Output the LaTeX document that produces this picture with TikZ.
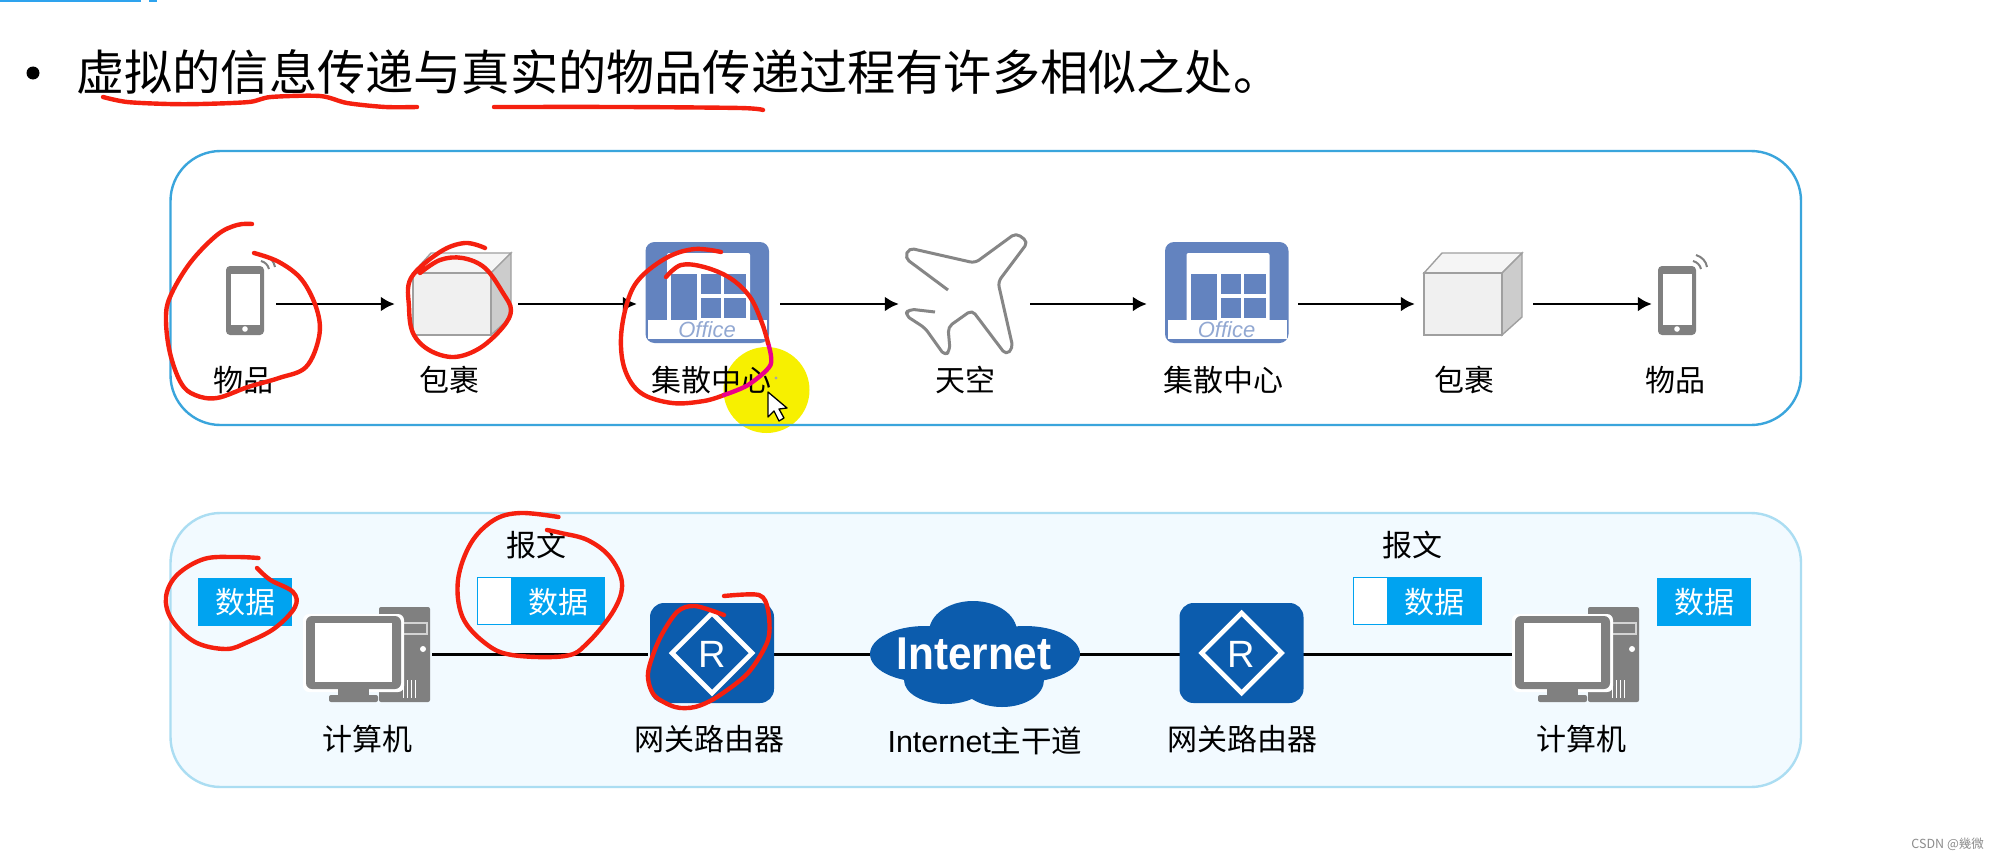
\documentclass[tikz,border=0pt]{standalone}
\usepackage{fontspec}
\setmainfont{Noto Sans CJK SC}
\newfontfamily\lat{Liberation Sans}
\usetikzlibrary{arrows.meta}
\definecolor{inkred}{HTML}{F5200F}
\definecolor{boxblue}{HTML}{00A3F0}
\definecolor{rblue}{HTML}{0C5CAD}
\definecolor{ofblue}{HTML}{6383BF}
\definecolor{gic}{HTML}{808080}
\definecolor{edgetop}{HTML}{3AA5DC}
\definecolor{edgelow}{HTML}{ABDDF2}
\definecolor{fillow}{HTML}{F2FAFF}
\definecolor{hilite}{HTML}{F7F000}
\definecolor{topbar}{HTML}{2EA3EE}
\tikzset{
  x=1pt,y=-1pt,
  lab/.style={font=\fontsize{30}{30}\selectfont,inner sep=0pt,text=black},
  dat/.style={font=\fontsize{30}{30}\selectfont,inner sep=0pt,text=white},
  anchorbox/.style={inner sep=0pt,minimum height=10pt},
  arr/.style={line width=2.8pt,black,-{Latex[length=14pt,width=15pt]}},
  lnk/.style={line width=3pt,black},
  ink/.style={inkred,line width=4.4pt,line cap=round,line join=round},
  panel/.style={line width=2.4pt,rounded corners=50pt}
}
\newcommand{\phoneic}[2]{\begin{scope}[shift={(#1,#2)}]
  \fill[gic,rounded corners=4pt](226,266)rectangle(264,335);
  \fill[white](231,274)rectangle(260,325);
  \fill[white](245,329)circle(2.8);
  \draw[gic,line width=2pt](261,261)..controls(265,262)and(268,265)..(269,269);
  \draw[gic,line width=2pt](264,255)..controls(270,257)and(274,261)..(275,267);
\end{scope}}
\newcommand{\cubeic}[2]{\begin{scope}[shift={(#1,#2)}]
  \fill[gray!8,draw=gray!75,line width=1.4pt](413,273)--(431,253)--(511,253)--(491,273)--cycle;
  \fill[gray!40,draw=gray!75,line width=1.4pt](491,273)--(511,253)--(511,317)--(491,335)--cycle;
  \fill[gray!12,draw=gray!75,line width=1.4pt](413,273)rectangle(491,335);
\end{scope}}
\newcommand{\officeic}[3]{\begin{scope}[shift={(#1,#2)}]
  \fill[ofblue,rounded corners=9pt](645.5,242)rectangle(769,343);
  \fill[white,rounded corners=2pt](667,253)rectangle(750,322);
  \fill[white](648,320)rectangle(767,339);
  \fill[ofblue](671,274)rectangle(697,320);
  \fill[ofblue](701,274)rectangle(721,294);
  \fill[ofblue](724,274)rectangle(746,294);
  \fill[ofblue](701,298)rectangle(721,318);
  \fill[ofblue](724,298)rectangle(746,318);
  \node[inner sep=0pt,text=ofblue!70,font=\lat\itshape\fontsize{22}{22}\selectfont] (#3) at (707,330) {Office};
\end{scope}}
\newcommand{\pcic}[2]{\begin{scope}[shift={(#1,#2)}]
  \fill[gic,rounded corners=2pt](379,607)rectangle(430,702);
  \fill[gic!35](402,622)rectangle(428,635);
  \fill[gic](404,624)rectangle(426,633);
  \fill[white](423,649)circle(3);
  \foreach \vx in {403,407,411,415}{\draw[white,line width=1pt](\vx,680)--(\vx,698);}
  \fill[white,rounded corners=6pt](303,614)rectangle(404,692);
  \fill[gic,rounded corners=6pt](306,616)rectangle(401,689);
  \fill[white](315,623)rectangle(392,682);
  \fill[gic](338,689)rectangle(369,695);
  \fill[gic,rounded corners=2pt](329,695)rectangle(378,702);
\end{scope}}
\newcommand{\routic}[3]{\begin{scope}[shift={(#1,#2)}]
  \fill[rblue,rounded corners=14pt](650,603)rectangle(774,703);
  \draw[white,line width=4.6pt,line join=miter](712,613)--(752,653)--(712,693)--(672,653)--cycle;
  \node[inner sep=0pt,text=white,font=\lat\fontsize{38}{38}\selectfont] (#3) at (712,654) {R};
\end{scope}}
\begin{document}
\begin{tikzpicture}
\useasboundingbox (0,0) rectangle (1996,859);
\fill[white](0,0)rectangle(1996,859);
\fill[topbar](0,0)rectangle(141,2.5);
\fill[topbar](149,0)rectangle(157,2.5);
% title
\fill[black](33,73)circle(6.5);
\node[anchor=west,inner sep=0pt,font=\fontsize{48.2}{48.2}\selectfont] (title) at (76,72) {虚拟的信息传递与真实的物品传递过程有许多相似之处。};
% yellow highlight under the panel edge
\fill[hilite](766.5,390)circle(43);
\fill[gray!70](776,378)circle(1.6);
% panels
\draw[panel,draw=edgetop](170.5,151)rectangle(1801,425);
\draw[panel,draw=edgelow,fill=fillow](170.5,513)rectangle(1801,787);
% top icons
\phoneic{0}{0}\cubeic{0}{0}\officeic{0}{0}{of1}
\officeic{519.5}{0}{of2}\cubeic{1011}{0}\phoneic{1432}{0}
% plane
\draw[gray!95,line width=3pt,rounded corners=5pt,line join=round]
 (948,290)--(905,258)--(909,248)--(975,263)--(1016,233)--(1028,242)--(998,282)--(1013,348)--(1006,355)--(972,310)--(948,327)--(950,350)--(945,356)--(925,328)--(905,315)--(909,309)--(935,312);
% anchors for arrows
\node[anchorbox,minimum width=0pt] (a1) at (276,304) {};
\node[anchorbox,minimum width=123pt] (a2) at (456.5,304) {};
\node[anchorbox,minimum width=143pt] (a3) at (708.5,304) {};
\node[anchorbox,minimum width=131pt] (a4) at (964.5,304) {};
\node[anchorbox,minimum width=151pt] (a5) at (1222.5,304) {};
\node[anchorbox,minimum width=118pt] (a6) at (1474,304) {};
\node[anchorbox,minimum width=0pt] (a7) at (1652,304) {};
\draw[arr](a1.east)--(a2.west);
\draw[arr](a2.east)--(a3.west);
\draw[arr](a3.east)--(a4.west);
\draw[arr](a4.east)--(a5.west);
\draw[arr](a5.east)--(a6.west);
\draw[arr](a6.east)--(a7.west);
% top labels
\node[lab] (l1) at (243,380) {物品};
\node[lab] (l2) at (449,380) {包裹};
\node[lab] (l3) at (711,380) {集散中心};
\node[lab] (l4) at (965,380) {天空};
\node[lab] (l5) at (1223,380) {集散中心};
\node[lab] (l6) at (1464,380) {包裹};
\node[lab] (l7) at (1675,380) {物品};
% bottom link
\node[anchorbox,minimum width=0pt] (b1) at (432,654) {};
\node[anchorbox,minimum width=126pt] (b2) at (711,654) {};
\node[anchorbox,minimum width=210pt] (b3) at (975,654) {};
\node[anchorbox,minimum width=123pt] (b4) at (1241.5,654) {};
\node[anchorbox,minimum width=0pt] (b5) at (1515,654) {};
\draw[lnk](b1.east)--(b2.west);
\draw[lnk](b2.east)--(b3.west);
\draw[lnk](b3.east)--(b4.west);
\draw[lnk](b4.east)--(b5.west);
% bottom icons
\pcic{0}{0}\pcic{1209}{0}\routic{0}{0}{r1}\routic{529.5}{0}{r2}
% cloud
\fill[rblue](925,654)ellipse(55 and 28);
\fill[rblue](1025,654)ellipse(55 and 28);
\fill[rblue](973,632)ellipse(44 and 31);
\fill[rblue](946,680)ellipse(42 and 24);
\fill[rblue](1002,680)ellipse(42 and 27);
\node[inner sep=0pt,text=white,xscale=.92,font=\lat\bfseries\fontsize{46}{46}\selectfont] (cloudtxt) at (974,654) {Internet};
% data boxes
\fill[boxblue](198,578)rectangle(291.5,626);
\node[dat] (d1) at (245,602) {数据};
\fill[boxblue](477,577)rectangle(605,625);
\draw[boxblue,fill=white,line width=1.4pt](477.7,577.7)rectangle(512,624.3);
\node[dat] (d2) at (558,602) {数据};
\fill[boxblue](1353,577)rectangle(1482,625);
\draw[boxblue,fill=white,line width=1.4pt](1353.7,577.7)rectangle(1388,624.3);
\node[dat] (d3) at (1434,602) {数据};
\fill[boxblue](1657,578)rectangle(1751,626);
\node[dat] (d4) at (1704,602) {数据};
\node[lab] (m1) at (536,545) {报文};
\node[lab] (m2) at (1412,545) {报文};
\node[lab] (n1) at (367,739) {计算机};
\node[lab] (n2) at (709,739) {网关路由器};
\node[lab] (n3) at (985,741) {\lat\fontsize{30.5}{30.5}\selectfont Internet\fontspec{Noto Sans CJK SC}主干道};
\node[lab] (n4) at (1242,739) {网关路由器};
\node[lab] (n5) at (1581,739) {计算机};
% ink
\draw[ink] plot[smooth,tension=.5] coordinates {(103,97)(127,102)(168,104)(201,104)(249,102)(271,97)(320,96)(347,103)(385,107)(417,107)};
\draw[ink] plot[smooth,tension=.5] coordinates {(494,107)(623,107)(740,108)(763,110)};
\draw[ink] plot[smooth,tension=.6] coordinates {(252,224)(237,225)(217,235)(190,263)(170,297)(166,320)(170,353)(181,383)(195,395)(217,398)(248,387)(279,378)(306,367)(319,337)(317,310)(302,280)(279,262)(254,253)};
\draw[ink] plot[smooth,tension=.6] coordinates {(485,248)(465,243)(440,252)(411,278)(409,307)(413,333)(429,350)(454,357)(480,348)(503,327)(511,310)(503,293)(485,268)(462.5,258)(440,260)(420,273)};
\draw[ink] plot[smooth,tension=.6] coordinates {(721,252)(695,249)(668,257)(641,277)(628,300)(621,337)(625,370)(641,393)(672,403)(704,401)(724,395)};
\draw[magenta,line width=4.4pt,line cap=round,line join=round] plot[smooth,tension=.5] coordinates {(724,395)(748,385)(770.5,365)(768,343)};
\draw[ink] plot[smooth,tension=.6] coordinates {(768,343)(762,323)(750,297)(730,278)(704,267)(681,265)(666,277)};
\draw[ink] plot[smooth,tension=.6] coordinates {(258.5,558)(235,557)(204,559)(177,575)(166,597)(172,620)(195,642)(226,649)(248,642)(275,628)(295,607)(293,592)(270.5,580)(257,568)};
\draw[ink] plot[smooth,tension=.6] coordinates {(558.5,517)(520.5,513)(494,520)(471,543)(458,580)(462.5,617)(485,643)(512,655)(565,656)(587.5,643)(614,610)(622,583)(610,557)(587.5,540)(561,533)(547,530)};
\draw[ink] plot[smooth,tension=.5] coordinates {(724,596)(759,595)(768,610)(768,640)(748,673)(717,697)(695,707)(675,707)(654,695)(648,673)(659,640)(677,612)(695,606)(724,615)};
% cursor
\fill[white,draw=black,line width=1.3pt,line join=round](768,392)--(768,417)--(774,411)--(779,421)--(784,418)--(779,409)--(787,408)--cycle;
% footer
\node[inner sep=0pt,anchor=east,text=gray!90,font=\fontsize{12.5}{12.5}\selectfont] (foot) at (1984,844) {CSDN @幾微};
\end{tikzpicture}
\end{document}
